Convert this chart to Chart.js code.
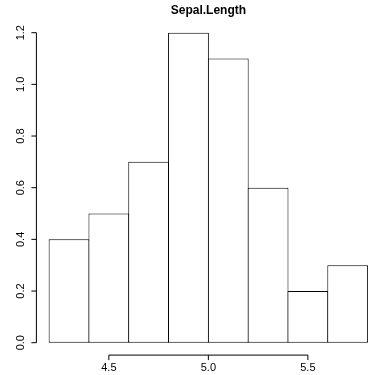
<!DOCTYPE html>
<html>
<head>
<meta charset="utf-8">
<script src="https://cdn.jsdelivr.net/npm/chart.js@4"></script>
<style>
  html, body { margin: 0; padding: 0; background: #fff; }
  canvas { display: block; }
</style>
</head>
<body>
<canvas id="myChart" width="368" height="375"></canvas>
<script>
// histograma de Sepal.Length (densidad)
let binEdges = [4.2, 4.4, 4.6, 4.8, 5.0, 5.2, 5.4, 5.6, 5.8];
let density = [0.4, 0.5, 0.7, 1.2, 1.1, 0.6, 0.2, 0.3];
let xTicks = [4.5, 5.0, 5.5];
let yTicks = [0.0, 0.2, 0.4, 0.6, 0.8, 1.0, 1.2];
let titulo = "Sepal.Length";

let fuente = '"Liberation Sans", Arial, Helvetica, sans-serif';

let puntos = density.map((v, i) => ({ x: (binEdges[i] + binEdges[i + 1]) / 2, y: v }));

// ejes al estilo de R: linea solo entre el primer y el ultimo tick
const ejesR = {
    id: 'ejesR',
    afterDraw(chart) {
        const c = chart.ctx;
        const xs = chart.scales.x;
        const ys = chart.scales.y;
        c.save();
        c.strokeStyle = '#000';
        c.fillStyle = '#000';
        c.lineWidth = 1;

        // eje x
        const yEje = ys.bottom;
        c.beginPath();
        c.moveTo(xs.getPixelForValue(xTicks[0]), yEje);
        c.lineTo(xs.getPixelForValue(xTicks[xTicks.length - 1]), yEje);
        xTicks.forEach(t => {
            const px = xs.getPixelForValue(t);
            c.moveTo(px, yEje);
            c.lineTo(px, yEje + 5);
        });
        c.stroke();
        c.font = '11px ' + fuente;
        c.textAlign = 'center';
        c.textBaseline = 'middle';
        xTicks.forEach(t => {
            c.fillText(t.toFixed(1), xs.getPixelForValue(t), yEje + 13);
        });

        // eje y
        const xEje = xs.left;
        c.beginPath();
        c.moveTo(xEje, ys.getPixelForValue(yTicks[0]));
        c.lineTo(xEje, ys.getPixelForValue(yTicks[yTicks.length - 1]));
        yTicks.forEach(t => {
            const py = ys.getPixelForValue(t);
            c.moveTo(xEje, py);
            c.lineTo(xEje - 5, py);
        });
        c.stroke();
        yTicks.forEach(t => {
            c.save();
            c.translate(xEje - 15, ys.getPixelForValue(t));
            c.rotate(-Math.PI / 2);
            c.fillText(t.toFixed(1), 0, 0);
            c.restore();
        });

        // titulo centrado sobre la region del grafico
        c.font = 'bold 12px ' + fuente;
        c.fillText(titulo, xs.getPixelForValue(5.0), 11);
        c.restore();
    }
};

const ctx = document.getElementById('myChart').getContext('2d');

const myChart = new Chart(ctx, {
    type: 'bar',
    data: {
        datasets: [{
            label: titulo,
            data: puntos,
            backgroundColor: '#ffffff',
            borderColor: '#000000',
            borderWidth: 1,
            borderSkipped: false,
            inflateAmount: 0,
            // un poco mas de 1 para que los bordes vecinos se solapen
            barPercentage: 1.025,
            categoryPercentage: 1
        }]
    },
    options: {
        responsive: false,
        animation: false,
        devicePixelRatio: 1,
        layout: {
            padding: { left: 36.4, top: 20.3, right: 0, bottom: 19.9 }
        },
        plugins: {
            legend: { display: false },
            title: { display: false },
            tooltip: { enabled: false }
        },
        scales: {
            x: {
                type: 'linear',
                display: false,
                offset: false,
                min: 4.136,
                max: 5.802,
                afterBuildTicks: s => { s.ticks = binEdges.map(v => ({ value: v })); }
            },
            y: {
                display: false,
                min: -0.048,
                max: 1.248
            }
        }
    },
    plugins: [ejesR]
});
</script>
</body>
</html>
